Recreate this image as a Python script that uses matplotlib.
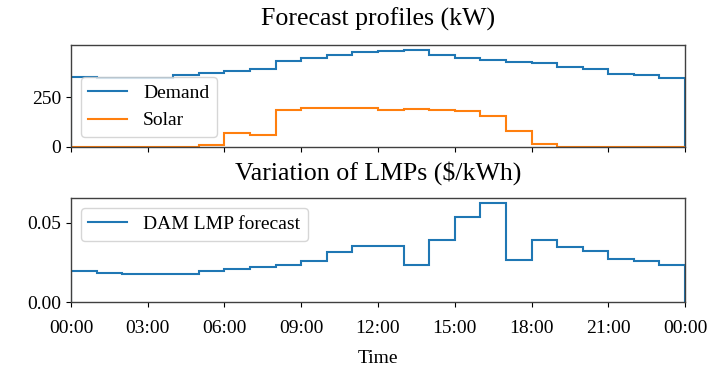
import numpy as np
import matplotlib
matplotlib.use('Agg')
import matplotlib.pyplot as plt

plt.rcParams['font.family'] = ['Liberation Serif', 'DejaVu Serif']
plt.rcParams['font.size'] = 14

# hourly data, 24 values between 25 edges (hours)
hours = np.arange(25)
demand = [353, 348, 348, 348, 361, 369, 379, 389, 430, 447, 460, 478,
          483, 487, 460, 447, 435, 424, 420, 402, 389, 366, 361, 348]
solar = [0, 0, 0, 0, 0, 8, 70, 58, 186, 197, 197, 197,
         184, 190, 184, 181, 156, 79, 13, 0, 0, 0, 0, 0]
lmp = [0.0193, 0.0183, 0.0176, 0.0176, 0.0179, 0.0193, 0.0206, 0.0220,
       0.0235, 0.0258, 0.0315, 0.0357, 0.0357, 0.0235, 0.0393, 0.0535,
       0.0626, 0.0263, 0.0393, 0.0346, 0.0321, 0.0273, 0.0258, 0.0231]
xticks = [0, 3, 6, 9, 12, 15, 18, 21, 24]
xticklabels = ['00:00', '03:00', '06:00', '09:00', '12:00', '15:00',
               '18:00', '21:00', '00:00']

fig = plt.figure(figsize=(7.12, 3.73), dpi=100)
ax1 = fig.add_axes([0.0997, 0.6059, 0.8624, 0.2735])
ax2 = fig.add_axes([0.0997, 0.1903, 0.8624, 0.2788], sharex=ax1)

ax1.stairs(demand, hours, color='tab:blue', lw=1.5, label='Demand')
ax1.stairs(solar, hours, color='tab:orange', lw=1.5, label='Solar')
ax1.set_yticks([0, 250])
ax1.set_title('Forecast profiles (kW)', fontsize=18.6, pad=14)
ax1.legend(loc='lower left')
ax1.tick_params(labelbottom=False)

ax2.stairs(lmp, hours, color='tab:blue', lw=1.5, label='DAM LMP forecast')
ax2.set_yticks([0.0, 0.05])
ax2.set_yticklabels(['0.00', '0.05'])
ax2.set_title('Variation of LMPs ($/kWh)', fontsize=18.6, pad=13)
ax2.legend(loc='upper left')
ax2.set_xlim(0, 24)
ax2.set_xticks(xticks)
ax2.set_xticklabels(xticklabels)
ax2.tick_params(axis='x', pad=9.5)
ax2.set_xlabel('Time', labelpad=9)

for ax in (ax1, ax2):
    for s in ax.spines.values():
        s.set_color('0.25')
        s.set_linewidth(1.0)

plt.savefig('out.png', dpi=100)
